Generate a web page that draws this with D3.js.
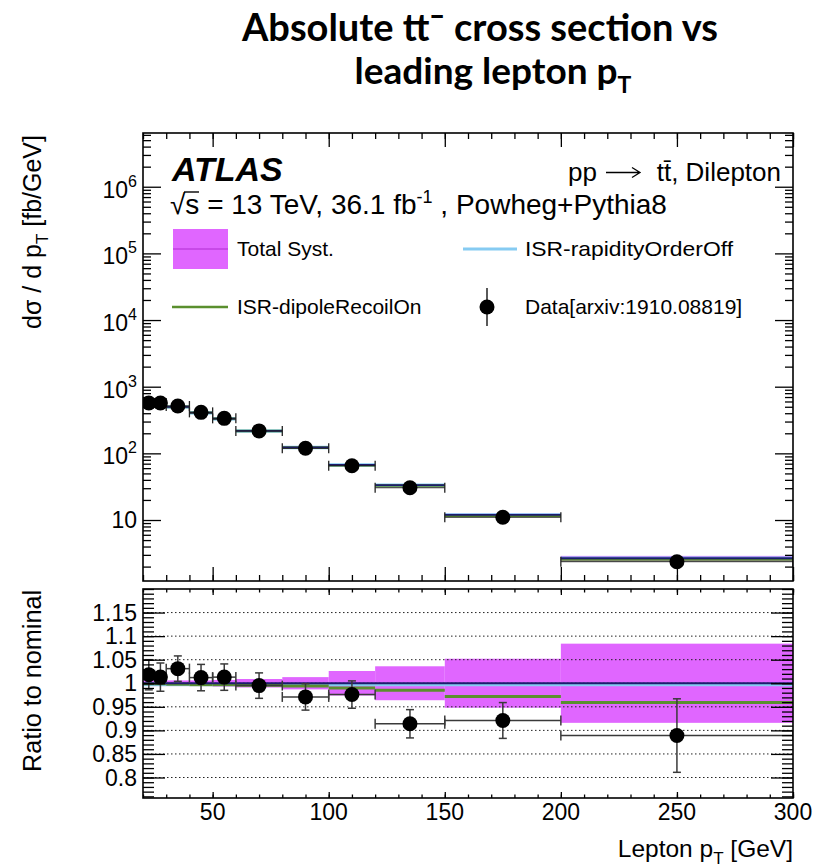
<!DOCTYPE html>
<html>
<head>
<meta charset="utf-8">
<script src="https://cdn.jsdelivr.net/npm/d3@7"></script>
<style>
  html, body { margin: 0; padding: 0; background: #fff; }
  svg { display: block; }
  text { font-family: "Liberation Sans", Arimo, Arial, Helvetica, sans-serif; fill: #000; }
  text.title { font-family: Lato, "Open Sans", sans-serif; font-weight: 700; }
</style>
</head>
<body>
<svg id="chart" width="814" height="868"></svg>
<script>
// ---------------- data ----------------
const binEdges    = [20, 25, 30, 40, 50, 60, 80, 100, 120, 150, 200, 300];
const binCenters  = [22.5, 27.5, 35, 45, 55, 70, 90, 110, 135, 175, 250];
const dataXsec    = [569, 569, 513, 412, 335, 217, 119, 65.3, 30.5, 11.0, 2.37];
const nominalXsec = [559, 561, 498, 407, 331, 218, 122.6, 66.9, 33.4, 11.9, 2.67];
const rapOffXsec  = [557, 559, 497, 406, 330, 217, 122, 66.7, 33.3, 11.86, 2.66];
const dipoleXsec  = [558, 560, 497, 406, 330, 217, 122, 66.2, 32.9, 11.57, 2.56];
const systRel     = [0.006, 0.006, 0.006, 0.006, 0.007, 0.009, 0.013, 0.026, 0.036, 0.052, 0.084];
const dataRatio    = [1.018, 1.013, 1.031, 1.012, 1.013, 0.995, 0.971, 0.976, 0.914, 0.921, 0.889];
const dataRatioErr = [0.032, 0.030, 0.027, 0.028, 0.028, 0.027, 0.028, 0.029, 0.030, 0.038, 0.078];
const rapOffRatio  = [0.997, 0.997, 0.997, 0.997, 0.997, 0.997, 0.997, 0.997, 0.997, 0.997, 0.997];
const dipoleRatio  = [0.999, 0.999, 0.998, 0.997, 0.997, 0.996, 0.994, 0.990, 0.985, 0.972, 0.959];
const xMajorTicks = [50, 100, 150, 200, 250, 300];
const yTopMajorTicks = [10, 100, 1e3, 1e4, 1e5, 1e6];
const yTopExponents  = ["", "2", "3", "4", "5", "6"];
const ratioMajorTicks = [0.8, 0.85, 0.9, 0.95, 1.0, 1.05, 1.1, 1.15];

// ---------------- layout ----------------
const L = 143, R = 793;
const T1 = 133, B1 = 581;
const T2 = 589, B2 = 798;

const svg = d3.select("#chart");
const x = d3.scaleLinear().domain([20, 300]).range([L, R]);
const yTop = d3.scaleLog().domain([1.216, 6.4e6]).range([B1, T1]);
const yRat = d3.scaleLinear().domain([0.7565, 1.2]).range([B2, T2]);

const NAVY = "#1c1c6e", LBLUE = "#86cbf2", GREEN = "#5a8f2e", MAG = "#e066ff";

const bins = binCenters.map((c, i) => ({
  i, c, x0: binEdges[i], x1: binEdges[i + 1],
  d: dataXsec[i], nom: nominalXsec[i], rap: rapOffXsec[i], dip: dipoleXsec[i],
  s: systRel[i], r: dataRatio[i], re: dataRatioErr[i], rr: rapOffRatio[i], dr: dipoleRatio[i]
}));

const defs = svg.append("defs");
defs.append("clipPath").attr("id", "c1").append("rect").attr("x", L).attr("y", T1).attr("width", R - L).attr("height", B1 - T1);
defs.append("clipPath").attr("id", "c2").append("rect").attr("x", L).attr("y", T2).attr("width", R - L).attr("height", B2 - T2);

// ---------------- title ----------------
svg.append("text").attr("class", "title").attr("x", 480).attr("y", 41)
  .attr("text-anchor", "middle").style("font-size", "38px").text("Absolute tt\u00AF cross section vs");
const t2 = svg.append("text").attr("class", "title").attr("x", 493).attr("y", 84)
  .attr("text-anchor", "middle").style("font-size", "37px");
t2.append("tspan").text("leading lepton p");
t2.append("tspan").attr("dy", 9).style("font-size", "23px").text("T");

// ---------------- top panel ----------------
const g1 = svg.append("g").attr("clip-path", "url(#c1)");
g1.selectAll(null).data(bins).join("rect")
  .attr("x", b => x(b.x0)).attr("width", b => x(b.x1) - x(b.x0))
  .attr("y", b => yTop(b.nom * (1 + b.s)))
  .attr("height", b => Math.max(1, yTop(b.nom * (1 - b.s)) - yTop(b.nom * (1 + b.s))))
  .attr("fill", MAG);
function hline(g, key, scale, color, w) {
  g.selectAll(null).data(bins).join("line")
    .attr("x1", b => x(b.x0)).attr("x2", b => x(b.x1))
    .attr("y1", b => scale(b[key])).attr("y2", b => scale(b[key]))
    .attr("stroke", color).attr("stroke-width", w);
}
hline(g1, "rap", yTop, LBLUE, 3.5);
hline(g1, "dip", yTop, GREEN, 2.5);
hline(g1, "nom", yTop, NAVY, 1.8);
g1.selectAll(null).data(bins).join("line")
  .attr("x1", b => x(b.x0)).attr("x2", b => x(b.x1))
  .attr("y1", b => yTop(b.d)).attr("y2", b => yTop(b.d))
  .attr("stroke", "#222").attr("stroke-width", 1);
["x0", "x1"].forEach(k => {
  g1.selectAll(null).data(bins).join("line")
    .attr("x1", b => x(b[k])).attr("x2", b => x(b[k]))
    .attr("y1", b => yTop(b.d) - 5).attr("y2", b => yTop(b.d) + 5)
    .attr("stroke", "#222").attr("stroke-width", 1.3);
});
g1.selectAll(null).data(bins).join("circle")
  .attr("cx", b => x(b.c)).attr("cy", b => yTop(b.d)).attr("r", 7.5).attr("fill", "#000");

// ---------------- bottom panel ----------------
const g2 = svg.append("g").attr("clip-path", "url(#c2)");
g2.selectAll(null).data(bins).join("rect")
  .attr("x", b => x(b.x0)).attr("width", b => x(b.x1) - x(b.x0))
  .attr("y", b => yRat(1 + b.s)).attr("height", b => yRat(1 - b.s) - yRat(1 + b.s))
  .attr("fill", MAG);
g2.selectAll(null).data(ratioMajorTicks).join("line")
  .attr("x1", L).attr("x2", R).attr("y1", d => yRat(d)).attr("y2", d => yRat(d))
  .attr("stroke", "#222").attr("stroke-width", 1).attr("stroke-dasharray", "1.5,2.5");
hline(g2, "rr", yRat, LBLUE, 3);
hline(g2, "dr", yRat, GREEN, 3);
g2.append("line").attr("x1", x(20)).attr("x2", x(300)).attr("y1", yRat(1)).attr("y2", yRat(1))
  .attr("stroke", NAVY).attr("stroke-width", 2);
const ERR = "#3a3a3a";
g2.selectAll(null).data(bins).join("line")
  .attr("x1", b => x(b.x0)).attr("x2", b => x(b.x1))
  .attr("y1", b => yRat(b.r)).attr("y2", b => yRat(b.r))
  .attr("stroke", ERR).attr("stroke-width", 1.5);
["x0", "x1"].forEach(k => {
  g2.selectAll(null).data(bins).join("line")
    .attr("x1", b => x(b[k])).attr("x2", b => x(b[k]))
    .attr("y1", b => yRat(b.r) - 5).attr("y2", b => yRat(b.r) + 5)
    .attr("stroke", ERR).attr("stroke-width", 1.5);
});
g2.selectAll(null).data(bins).join("line")
  .attr("x1", b => x(b.c)).attr("x2", b => x(b.c))
  .attr("y1", b => yRat(b.r + b.re)).attr("y2", b => yRat(b.r - b.re))
  .attr("stroke", ERR).attr("stroke-width", 1.5);
[1, -1].forEach(sg => {
  g2.selectAll(null).data(bins).join("line")
    .attr("x1", b => x(b.c) - 4).attr("x2", b => x(b.c) + 4)
    .attr("y1", b => yRat(b.r + sg * b.re)).attr("y2", b => yRat(b.r + sg * b.re))
    .attr("stroke", ERR).attr("stroke-width", 1.5);
});
g2.selectAll(null).data(bins).join("circle")
  .attr("cx", b => x(b.c)).attr("cy", b => yRat(b.r)).attr("r", 7.5).attr("fill", "#000");

// ---------------- axes / ticks ----------------
function styleAxis(sel) {
  sel.select(".domain").remove();
  sel.selectAll(".tick line").attr("stroke", "#000").attr("stroke-width", 1.3);
  sel.selectAll(".tick text").remove();
}
const xMinor = d3.range(20, 301, 10);
function xTicks(yPos, orientBottom, majLen, minLen) {
  const axMaj = (orientBottom ? d3.axisBottom(x) : d3.axisTop(x)).tickValues(xMajorTicks).tickSize(-majLen);
  const axMin = (orientBottom ? d3.axisBottom(x) : d3.axisTop(x)).tickValues(xMinor).tickSize(-minLen);
  svg.append("g").attr("transform", `translate(0,${yPos})`).call(axMin).call(styleAxis);
  svg.append("g").attr("transform", `translate(0,${yPos})`).call(axMaj).call(styleAxis);
}
xTicks(B1, true, 14, 6);
xTicks(T1, false, 14, 6);
xTicks(B2, true, 6, 3.5);
xTicks(T2, false, 6, 3.5);

const yTopMinor = [];
for (let e = 0; e <= 6; e++) for (let m = 2; m <= 9; m++) {
  const v = m * Math.pow(10, e);
  if (v > 1.216 && v < 6.4e6) yTopMinor.push(v);
}
function yTicks(scale, vals, xPos, left, len) {
  const ax = (left ? d3.axisLeft(scale) : d3.axisRight(scale)).tickValues(vals).tickSize(-len);
  svg.append("g").attr("transform", `translate(${xPos},0)`).call(ax).call(styleAxis);
}
yTicks(yTop, yTopMinor, L, true, 8);
yTicks(yTop, yTopMinor, R, false, 8);
yTicks(yTop, yTopMajorTicks, L, true, 18);
yTicks(yTop, yTopMajorTicks, R, false, 18);

const ratMinor = d3.range(76, 121, 1).map(v => v / 100);
yTicks(yRat, ratMinor, L, true, 11);
yTicks(yRat, ratMinor, R, false, 11);
yTicks(yRat, ratioMajorTicks, L, true, 22);
yTicks(yRat, ratioMajorTicks, R, false, 22);

[[T1, B1], [T2, B2]].forEach(([t, b]) => {
  svg.append("rect").attr("x", L).attr("y", t).attr("width", R - L).attr("height", b - t)
    .attr("fill", "none").attr("stroke", "#000").attr("stroke-width", 1.6);
});

// tick labels
const LBL = 23;
yTopMajorTicks.forEach((v, i) => {
  const t = svg.append("text").attr("x", 137).attr("y", yTop(v) + 11).attr("text-anchor", "end")
    .style("font-size", LBL + "px");
  if (yTopExponents[i] === "") { t.attr("y", yTop(v) + 8).text("10"); }
  else {
    t.append("tspan").text("10");
    t.append("tspan").attr("dy", -11).style("font-size", "16px").text(yTopExponents[i]);
  }
});
ratioMajorTicks.forEach(v => {
  svg.append("text").attr("x", 137).attr("y", yRat(v) + 8).attr("text-anchor", "end")
    .style("font-size", LBL + "px").text(String(+v.toFixed(2)));
});
xMajorTicks.forEach(v => {
  svg.append("text").attr("x", x(v)).attr("y", 820).attr("text-anchor", "middle")
    .style("font-size", LBL + "px").text(String(v));
});

// axis titles
const yt1 = svg.append("text").attr("transform", `translate(41,135) rotate(-90)`)
  .attr("text-anchor", "end").style("font-size", "25px");
yt1.append("tspan").text("d\u03C3 / d p");
yt1.append("tspan").attr("dy", 7).style("font-size", "17px").text("T");
yt1.append("tspan").attr("dy", -7).text(" [fb/GeV]");

svg.append("text").attr("transform", `translate(41,590) rotate(-90)`)
  .attr("text-anchor", "end").style("font-size", "25px")
  .attr("textLength", 182).attr("lengthAdjust", "spacingAndGlyphs").text("Ratio to nominal");

const xt = svg.append("text").attr("x", 793).attr("y", 857).attr("text-anchor", "end").style("font-size", "24.5px");
xt.append("tspan").text("Lepton p");
xt.append("tspan").attr("dy", 7).style("font-size", "17px").text("T");
xt.append("tspan").attr("dy", -7).text(" [GeV]");

// ---------------- labels inside plot ----------------
svg.append("text").attr("x", 172).attr("y", 181)
  .style("font-size", "34px").style("font-weight", "bold").style("font-style", "italic").text("ATLAS");

const lum = svg.append("text").attr("x", 170).attr("y", 214).style("font-size", "28px");
lum.append("tspan").text("\u221As = 13 TeV, 36.1 fb");
lum.append("tspan").attr("dy", -11).style("font-size", "18px").text("-1");
lum.append("tspan").attr("dy", 11).text(" , Powheg+Pythia8");
svg.append("line").attr("x1", 184).attr("x2", 199).attr("y1", 192).attr("y2", 192).attr("stroke", "#000").attr("stroke-width", 1.4);

// pp -> ttbar, Dilepton
svg.append("text").attr("x", 568).attr("y", 181).style("font-size", "26px").text("pp");
svg.append("path").attr("d", "M606,172.5 H639 M632,167.5 L640,172.5 L632,177.5")
  .attr("fill", "none").attr("stroke", "#000").attr("stroke-width", 1.3);
svg.append("text").attr("x", 781).attr("y", 181).attr("text-anchor", "end").style("font-size", "26px")
  .text("tt\u0304, Dilepton");

// legend
const LF = "21px";
svg.append("rect").attr("x", 173).attr("y", 229).attr("width", 55).attr("height", 40).attr("fill", MAG);
svg.append("line").attr("x1", 173).attr("x2", 228).attr("y1", 249).attr("y2", 249).attr("stroke", "#c040e0").attr("stroke-width", 1.5);
svg.append("text").attr("x", 237).attr("y", 256).style("font-size", LF).text("Total Syst.");

svg.append("line").attr("x1", 463).attr("x2", 517).attr("y1", 249).attr("y2", 249).attr("stroke", LBLUE).attr("stroke-width", 3);
svg.append("text").attr("x", 525).attr("y", 256).style("font-size", LF)
  .attr("textLength", 208).attr("lengthAdjust", "spacingAndGlyphs").text("ISR-rapidityOrderOff");

svg.append("line").attr("x1", 172).attr("x2", 228).attr("y1", 307).attr("y2", 307).attr("stroke", GREEN).attr("stroke-width", 2.5);
svg.append("text").attr("x", 237).attr("y", 314).style("font-size", LF).text("ISR-dipoleRecoilOn");

svg.append("line").attr("x1", 487).attr("x2", 487).attr("y1", 288).attr("y2", 326).attr("stroke", "#000").attr("stroke-width", 1.3);
svg.append("circle").attr("cx", 487).attr("cy", 307).attr("r", 7.5).attr("fill", "#000");
svg.append("text").attr("x", 525).attr("y", 314).style("font-size", LF).text("Data[arxiv:1910.08819]");
</script>
</body>
</html>
